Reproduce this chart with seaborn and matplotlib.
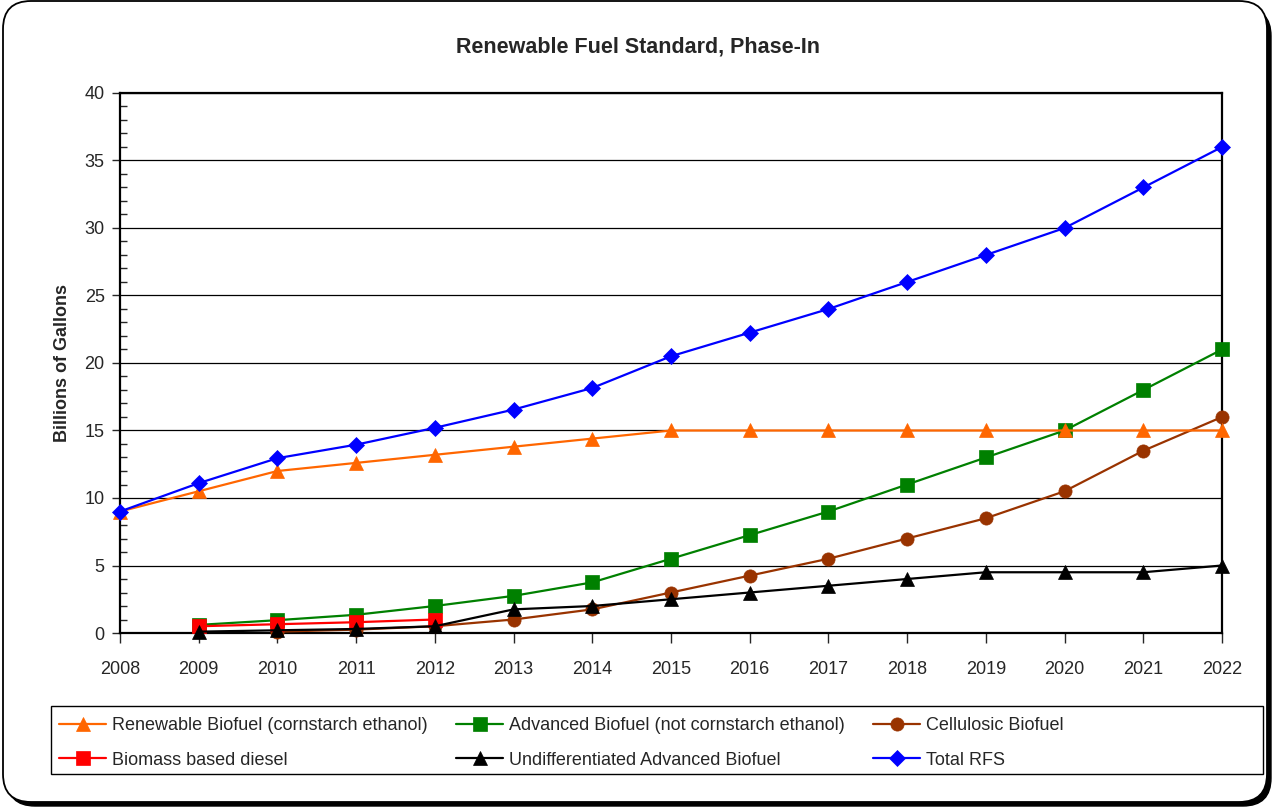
import matplotlib
matplotlib.use('Agg')
import matplotlib.pyplot as plt
import seaborn as sns
import pandas as pd
from matplotlib.patches import FancyBboxPatch, Rectangle
from matplotlib.transforms import IdentityTransform
from matplotlib.ticker import MultipleLocator

years = list(range(2008, 2023))

renewable = [9.0, 10.5, 12.0, 12.6, 13.2, 13.8, 14.4, 15, 15, 15, 15, 15, 15, 15, 15]
advanced = [None, 0.6, 0.95, 1.35, 2.0, 2.75, 3.75, 5.5, 7.25, 9.0, 11.0, 13.0, 15.0, 18.0, 21.0]
cellulosic = [None, None, 0.1, 0.25, 0.5, 1.0, 1.75, 3.0, 4.25, 5.5, 7.0, 8.5, 10.5, 13.5, 16.0]
biomass = [None, 0.5, 0.65, 0.8, 1.0, None, None, None, None, None, None, None, None, None, None]
undiff = [None, 0.1, 0.2, 0.3, 0.5, 1.75, 2.0, 2.5, 3.0, 3.5, 4.0, 4.5, 4.5, 4.5, 5.0]
total = [9.0, 11.1, 12.95, 13.95, 15.2, 16.55, 18.15, 20.5, 22.25, 24.0, 26.0, 28.0, 30.0, 33.0, 36.0]

labels = ['Renewable Biofuel (cornstarch ethanol)', 'Advanced Biofuel (not cornstarch ethanol)',
          'Cellulosic Biofuel', 'Biomass based diesel', 'Undifferentiated Advanced Biofuel', 'Total RFS']

series = {
    labels[0]: renewable,
    labels[1]: advanced,
    labels[2]: cellulosic,
    labels[3]: biomass,
    labels[4]: undiff,
    labels[5]: total,
}
colors = {labels[0]: '#FF6600', labels[1]: '#008000', labels[2]: '#993300',
          labels[3]: '#FF0000', labels[4]: '#000000', labels[5]: '#0000FF'}
markers = {labels[0]: '^', labels[1]: 's', labels[2]: 'o',
           labels[3]: 's', labels[4]: '^', labels[5]: 'D'}
msizes = {labels[0]: 10, labels[1]: 9.5, labels[2]: 9.5,
          labels[3]: 9.5, labels[4]: 10, labels[5]: 8.5}

df = pd.DataFrame({'Year': years})
for k, v in series.items():
    df[k] = pd.to_numeric(pd.Series(v), errors='coerce')
long_df = df.melt(id_vars='Year', var_name='Series', value_name='Value').dropna()

sns.set_style('white')
plt.rcParams['font.family'] = ['Liberation Sans', 'DejaVu Sans']

fig = plt.figure(figsize=(12.74, 8.07), dpi=100)

# rounded frame with shadow
shadow = FancyBboxPatch((7, 1), 1264, 798, boxstyle='round,pad=0,rounding_size=28',
                        transform=IdentityTransform(), facecolor='black', edgecolor='black',
                        zorder=-10)
frame = FancyBboxPatch((3, 5), 1264, 801, boxstyle='round,pad=0,rounding_size=28',
                       transform=IdentityTransform(), facecolor='white', edgecolor='black',
                       linewidth=1.3, zorder=-9)
fig.patches.extend([shadow, frame])
fig.patch.set_facecolor('white')

ax = fig.add_axes([120 / 1274, 174 / 807, 1102 / 1274, 540 / 807])
ax.patch.set_alpha(0)

draw_order = [labels[1], labels[2], labels[0], labels[3], labels[4], labels[5]]
for i, name in enumerate(draw_order):
    sub = long_df[long_df['Series'] == name]
    sns.lineplot(data=sub, x='Year', y='Value', ax=ax, color=colors[name],
                 marker=markers[name], markersize=msizes[name], markeredgewidth=0.5,
                 markeredgecolor=colors[name], linewidth=1.6, label=name,
                 zorder=3 + i, clip_on=False)

ax.set_xlim(2008, 2022)
ax.set_ylim(0, 40)
ax.set_xticks(years)
ax.set_xticklabels([str(y) for y in years])
ax.yaxis.set_major_locator(MultipleLocator(5))
ax.yaxis.set_minor_locator(MultipleLocator(1))
ax.grid(axis='y', which='major', color='black', linewidth=0.9)
ax.set_axisbelow(True)
for s in ax.spines.values():
    s.set_color('black')
    s.set_linewidth(1.6)
ax.tick_params(axis='x', which='major', direction='out', length=7, width=1, pad=13,
               labelsize=13, bottom=True)
ax.tick_params(axis='y', which='major', direction='out', length=6, width=1, pad=5,
               labelsize=13, left=True)
ax.tick_params(axis='y', which='minor', direction='in', length=5, width=1, left=True)

ax.set_xlabel('')
ax.set_ylabel('Billions of Gallons', fontsize=13, fontweight='bold', labelpad=10)
fig.text(638 / 1274, 1 - 47 / 807, 'Renewable Fuel Standard, Phase-In', ha='center',
         va='center', fontsize=15.5, fontweight='bold')

handles, labs = ax.get_legend_handles_labels()
hmap = dict(zip(labs, handles))
order = [labels[0], labels[3], labels[1], labels[4], labels[2], labels[5]]
ax.get_legend().remove()

# legend frame drawn separately so it spans the full width like the original
box = Rectangle((51 / 1274, 33 / 807), 1212 / 1274, 68 / 807, transform=fig.transFigure,
                facecolor='white', edgecolor='black', linewidth=1.0, zorder=1)
fig.patches.append(box)
leg = fig.legend([hmap[o] for o in order], order, loc='upper left', ncol=3,
                 bbox_to_anchor=(54 / 1274, 1 - 712 / 807),
                 frameon=False, fontsize=13, columnspacing=1.6,
                 handlelength=2.6, handletextpad=0.3, labelspacing=0.95, borderpad=0.3,
                 borderaxespad=0)

fig.savefig('out.png', dpi=100, facecolor='white')
